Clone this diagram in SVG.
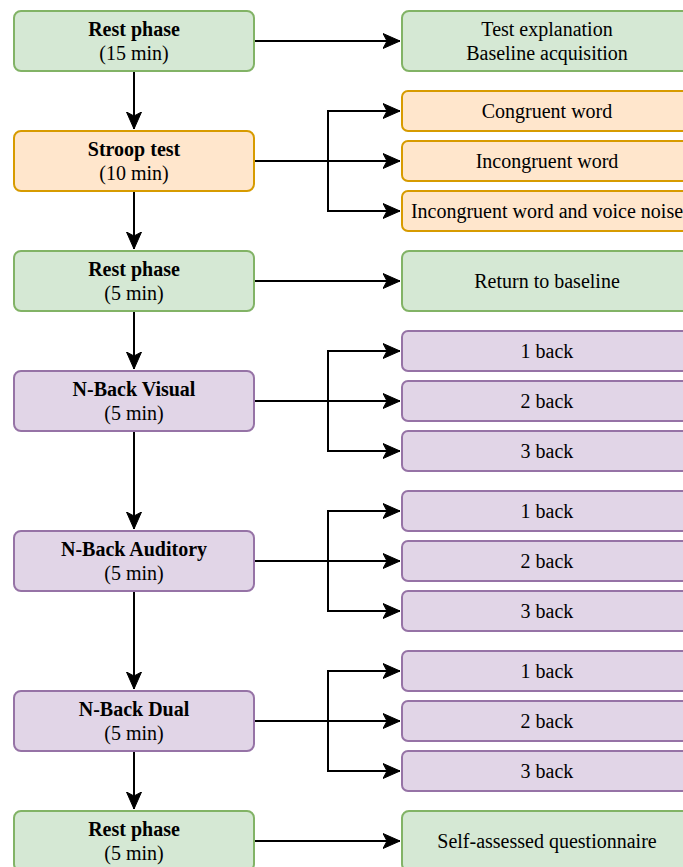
<svg xmlns="http://www.w3.org/2000/svg" width="683" height="867" viewBox="0 0 683 867">
<defs>
<marker id="arr" markerUnits="userSpaceOnUse" markerWidth="20" markerHeight="20" viewBox="0 0 20 20" refX="17" refY="10" orient="auto">
<path d="M0,2.5 L17,10 L0,17.5 L4,10 Z" fill="#000" stroke="#000" stroke-width="1"/>
</marker>
</defs>
<style>
.g{fill:#d5e8d4;stroke:#82b366;stroke-width:2}
.o{fill:#ffe6cc;stroke:#d79b00;stroke-width:2}
.p{fill:#e1d5e7;stroke:#9673a6;stroke-width:2}
text{font-family:"Liberation Serif","Times New Roman",serif;font-size:20px;fill:#000;text-anchor:middle}
.b{font-weight:bold}
.c{fill:none;stroke:#000;stroke-width:2}
</style>
<rect width="683" height="867" fill="#fff"/>
<g id="connectors">
<path class="c" d="M134,71 V129" marker-end="url(#arr)"/>
<path class="c" d="M134,191 V249" marker-end="url(#arr)"/>
<path class="c" d="M134,311 V369" marker-end="url(#arr)"/>
<path class="c" d="M134,431 V529" marker-end="url(#arr)"/>
<path class="c" d="M134,591 V689" marker-end="url(#arr)"/>
<path class="c" d="M134,751 V809" marker-end="url(#arr)"/>
<path class="c" d="M254,41 H400" marker-end="url(#arr)"/>
<path class="c" d="M254,281 H400" marker-end="url(#arr)"/>
<path class="c" d="M254,841 H400" marker-end="url(#arr)"/>
<path class="c" d="M254,161 H400" marker-end="url(#arr)"/>
<path class="c" d="M254,161 H328 V111 H400" marker-end="url(#arr)"/>
<path class="c" d="M254,161 H328 V211 H400" marker-end="url(#arr)"/>
<path class="c" d="M254,401 H400" marker-end="url(#arr)"/>
<path class="c" d="M254,401 H328 V351 H400" marker-end="url(#arr)"/>
<path class="c" d="M254,401 H328 V451 H400" marker-end="url(#arr)"/>
<path class="c" d="M254,561 H400" marker-end="url(#arr)"/>
<path class="c" d="M254,561 H328 V511 H400" marker-end="url(#arr)"/>
<path class="c" d="M254,561 H328 V611 H400" marker-end="url(#arr)"/>
<path class="c" d="M254,721 H400" marker-end="url(#arr)"/>
<path class="c" d="M254,721 H328 V671 H400" marker-end="url(#arr)"/>
<path class="c" d="M254,721 H328 V771 H400" marker-end="url(#arr)"/>
</g>
<g id="rest1"><rect class="g" x="14" y="11" width="240" height="60" rx="7"/><text class="b" x="134" y="36">Rest phase</text><text x="134" y="60">(15 min)</text></g>
<g id="stroop"><rect class="o" x="14" y="131" width="240" height="60" rx="7"/><text class="b" x="134" y="156">Stroop test</text><text x="134" y="180">(10 min)</text></g>
<g id="rest2"><rect class="g" x="14" y="251" width="240" height="60" rx="7"/><text class="b" x="134" y="276">Rest phase</text><text x="134" y="300">(5 min)</text></g>
<g id="nbv"><rect class="p" x="14" y="371" width="240" height="60" rx="7"/><text class="b" x="134" y="396">N-Back Visual</text><text x="134" y="420">(5 min)</text></g>
<g id="nba"><rect class="p" x="14" y="531" width="240" height="60" rx="7"/><text class="b" x="134" y="556">N-Back Auditory</text><text x="134" y="580">(5 min)</text></g>
<g id="nbd"><rect class="p" x="14" y="691" width="240" height="60" rx="7"/><text class="b" x="134" y="716">N-Back Dual</text><text x="134" y="740">(5 min)</text></g>
<g id="rest3"><rect class="g" x="14" y="811" width="240" height="60" rx="7"/><text class="b" x="134" y="836">Rest phase</text><text x="134" y="860">(5 min)</text></g>
<g id="explain"><rect class="g" x="402" y="11" width="290" height="60" rx="7"/><text x="547" y="36">Test explanation</text><text x="547" y="60">Baseline acquisition</text></g>
<g id="congruent"><rect class="o" x="402" y="91" width="290" height="40" rx="6"/><text x="547" y="117.5">Congruent word</text></g>
<g id="incongruent"><rect class="o" x="402" y="141" width="290" height="40" rx="6"/><text x="547" y="167.5">Incongruent word</text></g>
<g id="incongruentnoise"><rect class="o" x="402" y="191" width="290" height="40" rx="6"/><text x="547" y="217.5">Incongruent word and voice noise</text></g>
<g id="return"><rect class="g" x="402" y="251" width="290" height="60" rx="7"/><text x="547" y="287.5">Return to baseline</text></g>
<g id="v1"><rect class="p" x="402" y="331" width="290" height="40" rx="6"/><text x="547" y="357.5">1 back</text></g>
<g id="v2"><rect class="p" x="402" y="381" width="290" height="40" rx="6"/><text x="547" y="407.5">2 back</text></g>
<g id="v3"><rect class="p" x="402" y="431" width="290" height="40" rx="6"/><text x="547" y="457.5">3 back</text></g>
<g id="a1"><rect class="p" x="402" y="491" width="290" height="40" rx="6"/><text x="547" y="517.5">1 back</text></g>
<g id="a2"><rect class="p" x="402" y="541" width="290" height="40" rx="6"/><text x="547" y="567.5">2 back</text></g>
<g id="a3"><rect class="p" x="402" y="591" width="290" height="40" rx="6"/><text x="547" y="617.5">3 back</text></g>
<g id="d1"><rect class="p" x="402" y="651" width="290" height="40" rx="6"/><text x="547" y="677.5">1 back</text></g>
<g id="d2"><rect class="p" x="402" y="701" width="290" height="40" rx="6"/><text x="547" y="727.5">2 back</text></g>
<g id="d3"><rect class="p" x="402" y="751" width="290" height="40" rx="6"/><text x="547" y="777.5">3 back</text></g>
<g id="questionnaire"><rect class="g" x="402" y="811" width="290" height="60" rx="7"/><text x="547" y="847.5">Self-assessed questionnaire</text></g>
</svg>
